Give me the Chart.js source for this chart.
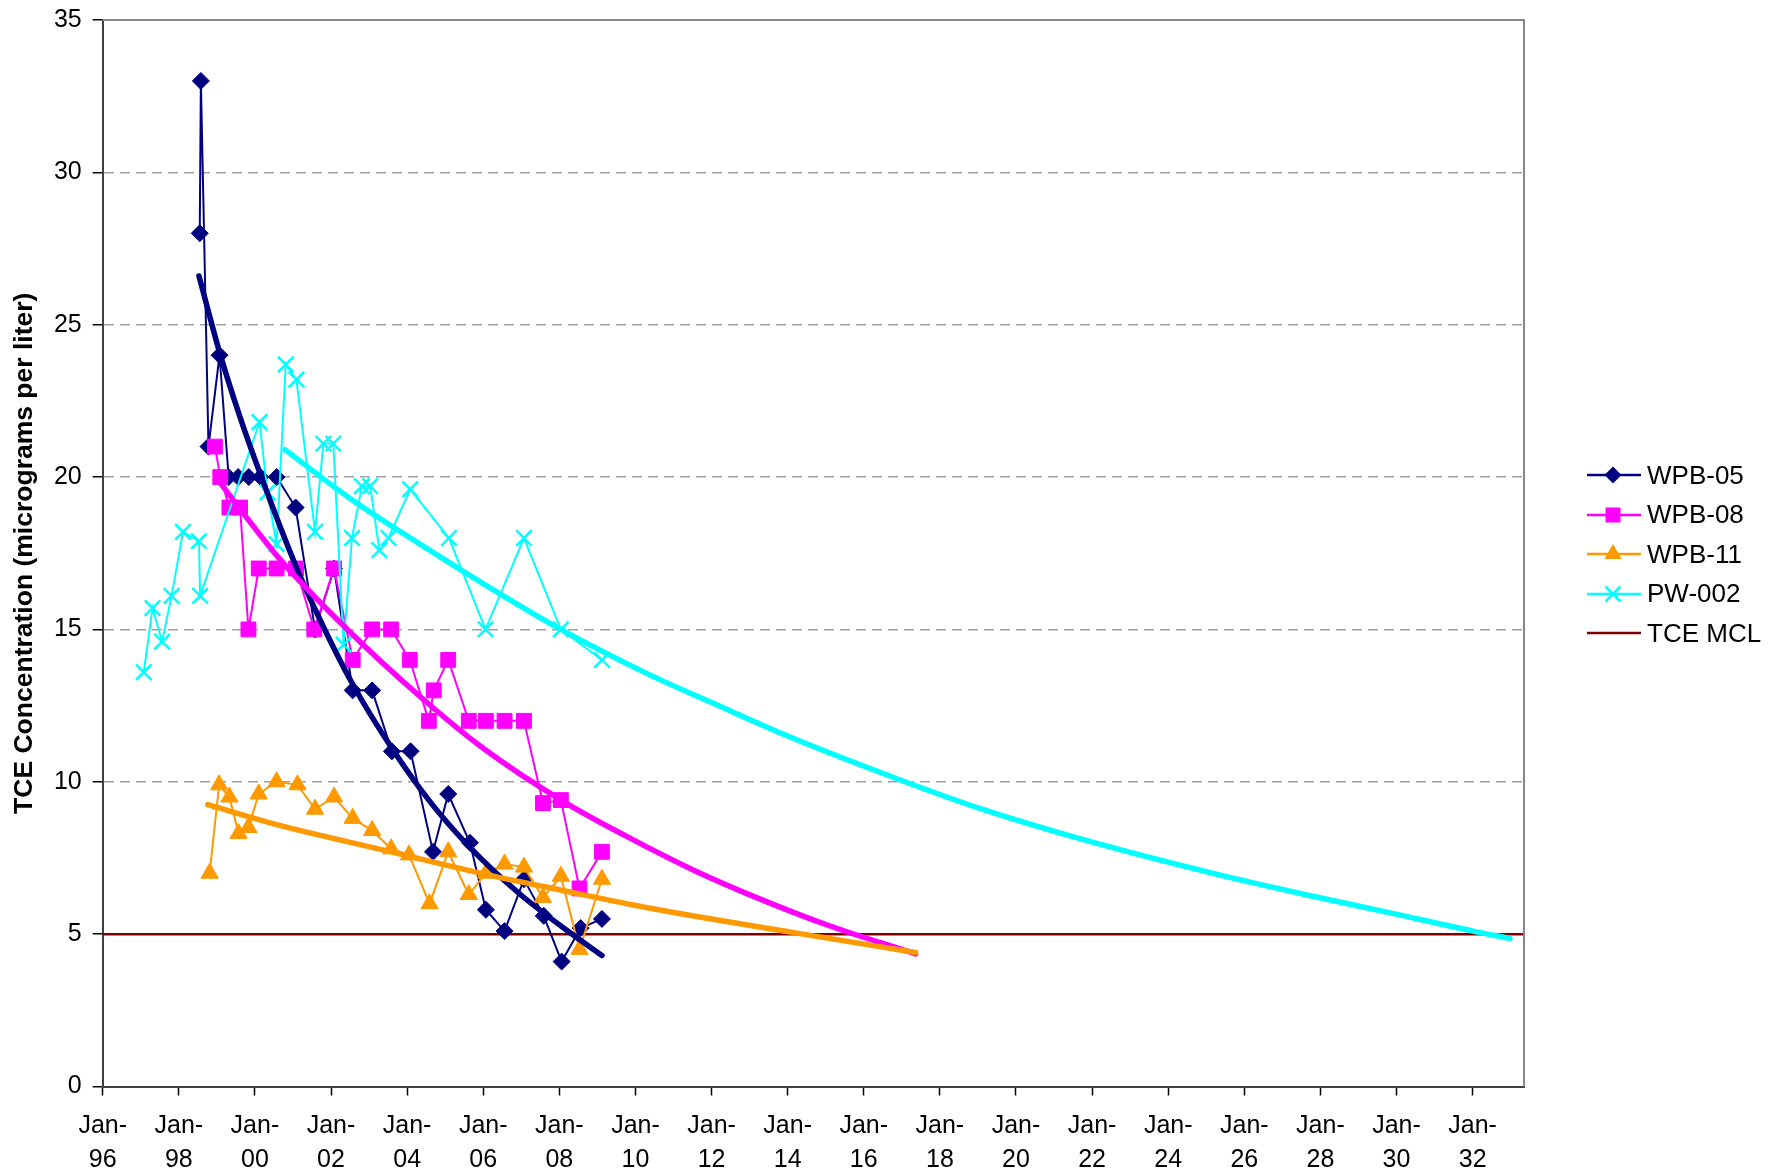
<!DOCTYPE html>
<html lang="en">
<head>
  <meta charset="UTF-8" />
  <title>TCE Concentration</title>
  <script src="https://cdn.jsdelivr.net/npm/chart.js"></script>
<style>
  body {
    margin: 0;
    background-color: white;
    font-family: "Liberation Sans", Arial, sans-serif;
  }
  #wrap {
    position: relative;
    width: 1769px;
    height: 1171px;
  }
  #legend {
    position: absolute;
    left: 1587px;
    top: 0;
  }
  .legend-row {
    position: absolute;
    left: 0;
    height: 30px;
    display: flex;
    align-items: center;
    white-space: nowrap;
    font-size: 26px;
    color: black;
  }
  .legend-row svg {
    margin-right: 6px;
  }
</style>
</head>
<body>
  <div id="wrap">
    <canvas id="chart" width="1769" height="1171"></canvas>
    <div id="legend"></div>
  </div>

  <script>
    // x axis ticks (decimal years)
    const xTickYears = [1996, 1998, 2000, 2002, 2004, 2006, 2008, 2010, 2012, 2014,
      2016, 2018, 2020, 2022, 2024, 2026, 2028, 2030, 2032];
    const xMin = 1996;
    const xMax = 2033.35;
    const yTicks = [0, 5, 10, 15, 20, 25, 30, 35];

    // WPB-05
    const wpb05Dates = [1998.55, 1998.58, 1998.78, 1999.07, 1999.31, 1999.56, 1999.84, 2000.15,
      2000.57, 2001.07, 2001.58, 2002.08, 2002.57, 2003.08, 2003.60, 2004.09, 2004.68, 2005.08,
      2005.65, 2006.07, 2006.56, 2007.07, 2007.59, 2008.06, 2008.56, 2009.12];
    const wpb05Values = [28, 33, 21, 24, 20, 20, 20, 20,
      20, 19, 15, 17, 13, 13, 11, 11, 7.7, 9.6,
      8.0, 5.8, 5.1, 6.8, 5.6, 4.1, 5.2, 5.5];

    // WPB-08
    const wpb08Dates = [1998.95, 1999.09, 1999.33, 1999.61, 1999.83, 2000.10, 2000.57, 2001.08,
      2001.56, 2002.08, 2002.57, 2003.08, 2003.58, 2004.07, 2004.57, 2004.70, 2005.08, 2005.62,
      2006.07, 2006.56, 2007.07, 2007.57, 2008.04, 2008.53, 2009.12];
    const wpb08Values = [21, 20, 19, 19, 15, 17, 17, 17,
      15, 17, 14, 15, 15, 14, 12, 13, 14, 12,
      12, 12, 12, 9.3, 9.4, 6.5, 7.7];

    // WPB-11
    const wpb11Dates = [1998.81, 1999.06, 1999.33, 1999.57, 1999.83, 2000.10, 2000.57, 2001.12,
      2001.58, 2002.08, 2002.57, 2003.08, 2003.58, 2004.05, 2004.59, 2005.08, 2005.62, 2006.07,
      2006.56, 2007.07, 2007.57, 2008.04, 2008.53, 2009.12];
    const wpb11Values = [7.0, 9.9, 9.5, 8.3, 8.5, 9.6, 10.0, 9.9,
      9.1, 9.5, 8.8, 8.4, 7.8, 7.6, 6.0, 7.7, 6.3, 7.0,
      7.3, 7.2, 6.2, 6.9, 4.5, 6.8];

    // PW-002
    const pw002Dates = [1997.08, 1997.31, 1997.56, 1997.81, 1998.11, 1998.53, 1998.56, 2000.12,
      2000.33, 2000.57, 2000.81, 2001.09, 2001.58, 2001.80, 2002.06, 2002.33, 2002.55, 2002.81,
      2003.03, 2003.27, 2003.51, 2004.08, 2005.10, 2006.06, 2007.07, 2008.04, 2009.12];
    const pw002Values = [13.6, 15.7, 14.6, 16.1, 18.2, 17.9, 16.1, 21.8,
      19.5, 17.8, 23.7, 23.2, 18.2, 21.1, 21.1, 14.5, 18.0, 19.7,
      19.7, 17.6, 18.0, 19.6, 18.0, 15.0, 18.0, 15.0, 14.0];

    // TCE MCL
    const mclDates = [1996, 2033.35];
    const mclValues = [5, 5];

    // trend lines
    const wpb05TrendDates = [1998.53, 1999.07, 1999.6, 2000.17, 2001.07, 2001.68, 2002.57, 2003.6,
      2004.6, 2005.65, 2006.93, 2008.06, 2009.12];
    const wpb05TrendValues = [26.6, 24.1, 22.0, 20.0, 17.1, 15.4, 13.2, 11.1,
      9.35, 7.85, 6.35, 5.25, 4.3];

    const wpb08TrendDates = [1998.97, 2000.66, 2002.43, 2004.34, 2006.0, 2008.11, 2009.78, 2011.53,
      2013.28, 2015.04, 2017.36];
    const wpb08TrendValues = [20.0, 17.3, 15.0, 12.8, 11.1, 9.35, 8.2, 7.1,
      6.15, 5.3, 4.35];

    const wpb11TrendDates = [1998.76, 2000.55, 2003.58, 2006.0, 2008.02, 2010.39, 2014.16, 2017.36];
    const wpb11TrendValues = [9.25, 8.6, 7.7, 6.98, 6.45, 5.85, 5.05, 4.4];

    const pw002TrendDates = [2000.79, 2002.5, 2004.34, 2006.2, 2008.04, 2010.39, 2012.0, 2014.0,
      2016.96, 2019.11, 2021.26, 2023.41, 2025.56, 2027.71, 2029.86, 2032.01, 2032.98];
    const pw002TrendValues = [20.9, 19.3, 17.8, 16.35, 15.0, 13.5, 12.6, 11.5,
      10.06, 9.1, 8.28, 7.55, 6.88, 6.27, 5.69, 5.1, 4.86];

    const toPoints = (dates, values) => dates.map((d, i) => ({ x: d, y: values[i] }));

    const NAVY = "#000080";
    const MAGENTA = "#FF00FF";
    const ORANGE = "#FF9900";
    const CYAN = "#00FFFF";
    const MCL = "#800000";

    function trend(dates, values, color, order) {
      return {
        data: toPoints(dates, values),
        borderColor: color,
        borderWidth: 5.5,
        borderCapStyle: "round",
        pointRadius: 0,
        cubicInterpolationMode: "monotone",
        order: order
      };
    }

    function series(dates, values, color, style, radius, order) {
      return {
        data: toPoints(dates, values),
        borderColor: color,
        backgroundColor: color,
        borderWidth: 2,
        pointStyle: style,
        pointRadius: radius,
        pointBackgroundColor: color,
        pointBorderColor: color,
        pointBorderWidth: style === "crossRot" ? 2.5 : 1,
        tension: 0,
        order: order
      };
    }

    // top and right edges of the plot area
    const frame = {
      id: "frame",
      afterDraw(chart) {
        const { ctx, chartArea: a } = chart;
        ctx.save();
        ctx.strokeStyle = "#888888";
        ctx.lineWidth = 2;
        ctx.beginPath();
        ctx.moveTo(a.left, a.top);
        ctx.lineTo(a.right, a.top);
        ctx.lineTo(a.right, a.bottom);
        ctx.stroke();
        ctx.restore();
      }
    };

    const chart = new Chart(document.getElementById("chart"), {
      type: "line",
      data: {
        datasets: [
          trend(pw002TrendDates, pw002TrendValues, CYAN, 1),
          trend(wpb11TrendDates, wpb11TrendValues, ORANGE, 2),
          trend(wpb08TrendDates, wpb08TrendValues, MAGENTA, 3),
          trend(wpb05TrendDates, wpb05TrendValues, NAVY, 4),
          {
            data: toPoints(mclDates, mclValues),
            borderColor: MCL,
            borderWidth: 2.5,
            pointRadius: 0,
            order: 9
          },
          series(pw002Dates, pw002Values, CYAN, "crossRot", 11, 5),
          series(wpb11Dates, wpb11Values, ORANGE, "triangle", 10, 6),
          series(wpb08Dates, wpb08Values, MAGENTA, "rect", 10.5, 7),
          series(wpb05Dates, wpb05Values, NAVY, "rectRot", 8.5, 8)
        ]
      },
      options: {
        responsive: false,
        animation: false,
        devicePixelRatio: 1,
        layout: { padding: { left: 4, top: 20, right: 245, bottom: 0 } },
        plugins: {
          legend: { display: false },
          tooltip: { enabled: false }
        },
        scales: {
          x: {
            type: "linear",
            min: xMin,
            max: xMax,
            afterBuildTicks: (scale) => {
              scale.ticks = xTickYears.map(v => ({ value: v }));
            },
            afterFit: (scale) => { scale.height = 84.5; },
            ticks: {
              autoSkip: false,
              maxRotation: 0,
              minRotation: 0,
              padding: 14,
              color: "#000",
              font: { family: "Liberation Sans", size: 25, lineHeight: 1.36 },
              callback: (v) => ["Jan-", String(v % 100).padStart(2, "0")]
            },
            grid: {
              drawOnChartArea: false,
              drawTicks: true,
              tickLength: 9,
              tickColor: "#000",
              tickWidth: 1.5
            },
            border: { display: true, color: "#404040", width: 2 }
          },
          y: {
            min: 0,
            max: 35,
            afterBuildTicks: (scale) => {
              scale.ticks = yTicks.map(v => ({ value: v }));
            },
            afterFit: (scale) => { scale.width = 98.7; },
            ticks: {
              padding: 11,
              color: "#000",
              font: { family: "Liberation Sans", size: 25, lineHeight: 0.7 }
            },
            grid: {
              color: (c) => (c.tick && (c.tick.value === 0 || c.tick.value === 35)) ? "rgba(0,0,0,0)" : "#a0a0a0",
              lineWidth: 1.5,
              drawTicks: true,
              tickLength: 10,
              tickColor: "#000",
              tickWidth: 1.5
            },
            border: { display: true, color: "#404040", width: 2, dash: [10, 6] },
            title: {
              display: true,
              text: "TCE Concentration (micrograms per liter)",
              color: "#000",
              padding: { top: 5, bottom: 0 },
              font: { family: "Liberation Sans", size: 26.5, weight: "bold", lineHeight: 1.2 }
            }
          }
        }
      },
      plugins: [frame]
    });

    // legend beside the plot
    const legendItems = [
      { label: "WPB-05", color: NAVY, marker: "diamond" },
      { label: "WPB-08", color: MAGENTA, marker: "square" },
      { label: "WPB-11", color: ORANGE, marker: "triangle" },
      { label: "PW-002", color: CYAN, marker: "cross" },
      { label: "TCE MCL", color: MCL, marker: "none" }
    ];
    const legendRowY = [475, 514.5, 554, 593.5, 633];

    function markerSvg(kind, color) {
      const cx = 26, cy = 15;
      if (kind === "diamond") return `<polygon points="${cx - 8.5},${cy} ${cx},${cy - 8.5} ${cx + 8.5},${cy} ${cx},${cy + 8.5}" fill="${color}"/>`;
      if (kind === "square") return `<rect x="${cx - 7.5}" y="${cy - 7.5}" width="15" height="15" fill="${color}"/>`;
      if (kind === "triangle") return `<polygon points="${cx},${cy - 10} ${cx + 8.7},${cy + 5} ${cx - 8.7},${cy + 5}" fill="${color}"/>`;
      if (kind === "cross") return `<path d="M${cx - 7.5},${cy - 7.5} L${cx + 7.5},${cy + 7.5} M${cx + 7.5},${cy - 7.5} L${cx - 7.5},${cy + 7.5}" stroke="${color}" stroke-width="2.5"/>`;
      return "";
    }

    const legend = document.getElementById("legend");
    legendItems.forEach((item, i) => {
      const row = document.createElement("div");
      row.className = "legend-row";
      row.style.top = (legendRowY[i] - 15) + "px";
      row.innerHTML =
        `<svg width="54" height="30"><line x1="0" y1="15" x2="54" y2="15" stroke="${item.color}" stroke-width="2.5"/>` +
        markerSvg(item.marker, item.color) + `</svg><span>${item.label}</span>`;
      legend.appendChild(row);
    });
  </script>
</body>
</html>
